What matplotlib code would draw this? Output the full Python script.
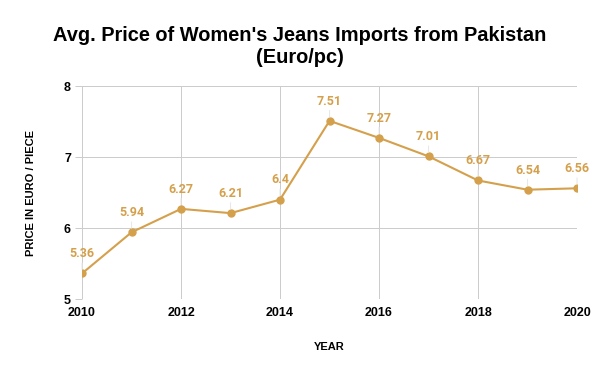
import matplotlib
matplotlib.use("Agg")
import matplotlib.pyplot as plt

years = [2010, 2011, 2012, 2013, 2014, 2015, 2016, 2017, 2018, 2019, 2020]
prices = [5.36, 5.94, 6.27, 6.21, 6.4, 7.51, 7.27, 7.01, 6.67, 6.54, 6.56]
labels = ["5.36", "5.94", "6.27", "6.21", "6.4", "7.51", "7.27", "7.01", "6.67", "6.54", "6.56"]
xticks = [2010, 2012, 2014, 2016, 2018, 2020]
yticks = [5, 6, 7, 8]

color = "#d4a04c"
fig = plt.figure(figsize=(6, 3.71), dpi=100)
ax = fig.add_axes([0.1367, 0.194, 0.8250, 0.574])
ax.plot(years, prices, color=color, lw=1.5, marker="o", ms=5, zorder=3)
ax.set_xlim(2010, 2020)
ax.set_ylim(5, 8)
ax.set_xticks(xticks)
ax.set_yticks(yticks)
ax.grid(True, color="#cccccc", lw=0.72, antialiased=False)
ax.set_axisbelow(True)
for s in ax.spines.values():
    s.set_visible(False)
ax.tick_params(axis="x", length=0, pad=6)
ax.tick_params(axis="y", length=5, width=0.72, color="#cccccc", pad=3)
for t in ax.get_xticklabels() + ax.get_yticklabels():
    t.set_fontfamily("Liberation Sans")
    t.set_fontweight("bold")
    t.set_fontsize(9)

for x, y, lab in zip(years, prices, labels):
    ax.annotate(lab, xy=(x, y), xytext=(0, 9.5), textcoords="offset points",
                ha="center", va="bottom", color=color, fontsize=9,
                fontfamily="Roboto", fontweight="bold",
                arrowprops=dict(arrowstyle="-", color="#e8e8e8", lw=0.8,
                                shrinkA=0, shrinkB=3))

ax.set_xlabel("YEAR", fontfamily="Liberation Sans", fontweight="bold", fontsize=8, labelpad=16)
ax.set_ylabel("PRICE IN EURO / PIECE", fontfamily="Liberation Sans", fontweight="bold", fontsize=8, labelpad=20)
fig.text(0.5, 0.875, "Avg. Price of Women's Jeans Imports from Pakistan\n(Euro/pc)",
         ha="center", va="center", fontfamily="Liberation Sans", fontweight="bold",
         fontsize=14.4, linespacing=1.2)
fig.savefig("out.png", dpi=100)
